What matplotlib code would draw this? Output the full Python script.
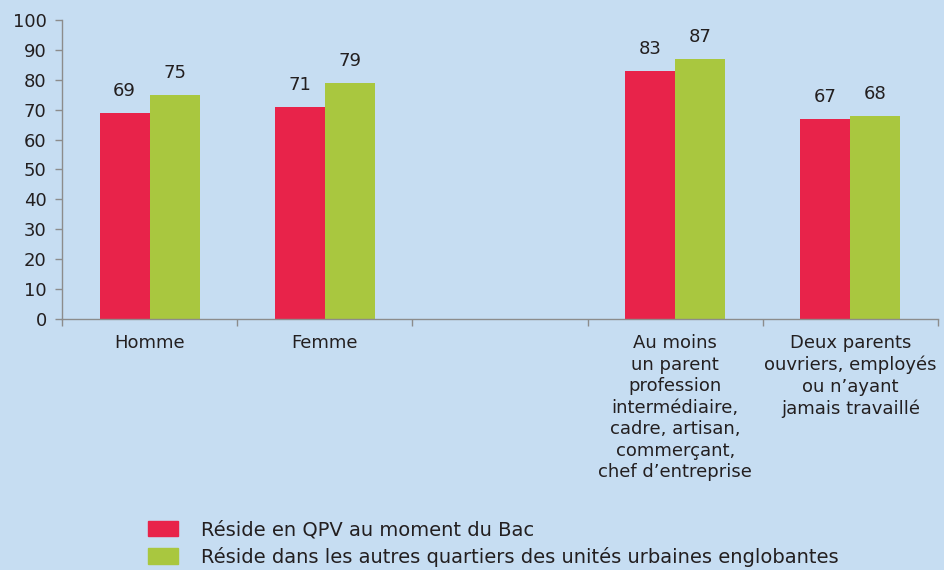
import matplotlib.pyplot as plt
import numpy as np

categories = ["Homme", "Femme", "",
              "Au moins\nun parent\nprofession\nintermédiaire,\ncadre, artisan,\ncommerçant,\nchef d\u2019entreprise",
              "Deux parents\nouvriers, employés\nou n\u2019ayant\njamais travaillé"]
qpv = [69, 71, None, 83, 67]
autres = [75, 79, None, 87, 68]
series_names = ["Réside en QPV au moment du Bac",
                "Réside dans les autres quartiers des unités urbaines englobantes"]

bg = "#c6ddf2"
red = "#e8234a"
green = "#a9c73f"
txt = "#231f20"

plt.rcParams['font.family'] = ['DejaVu Sans']

fig = plt.figure(figsize=(9.44, 5.70), dpi=100, facecolor=bg)
ax = fig.add_axes([0.0657, 0.4404, 0.9279, 0.5246])
ax.set_facecolor(bg)

x = np.arange(len(categories))
w = 0.286
for i in range(len(categories)):
    if qpv[i] is None:
        continue
    ax.bar(x[i] - w / 2, qpv[i], w, color=red, edgecolor="none")
    ax.bar(x[i] + w / 2, autres[i], w, color=green, edgecolor="none")
    ax.annotate(str(qpv[i]), (x[i] - w / 2, qpv[i]), xytext=(0, 9), textcoords="offset points",
                ha="center", va="bottom", fontsize=13, color=txt)
    ax.annotate(str(autres[i]), (x[i] + w / 2, autres[i]), xytext=(0, 9), textcoords="offset points",
                ha="center", va="bottom", fontsize=13, color=txt)

ax.set_xlim(-0.5, len(categories) - 0.5)
ax.set_ylim(0, 100)
ax.set_yticks(range(0, 101, 10))
ax.tick_params(axis="y", labelsize=13, colors="#8c8c8c", labelcolor=txt, length=5, width=1, pad=6)

ax.set_xticks(x)
ax.set_xticklabels(categories, fontsize=13, color=txt, linespacing=1.25, va="top")
ax.tick_params(axis="x", which="major", length=0, pad=11)
ax.set_xticks(np.arange(-0.5, len(categories), 1), minor=True)
ax.tick_params(axis="x", which="minor", length=5, width=1, colors="#8c8c8c")

for s in ["top", "right"]:
    ax.spines[s].set_visible(False)
for s in ["left", "bottom"]:
    ax.spines[s].set_color("#8c8c8c")
    ax.spines[s].set_linewidth(1)

handles = [plt.Rectangle((0, 0), 1, 1, color=red), plt.Rectangle((0, 0), 1, 1, color=green)]
fig.legend(handles, series_names, loc="upper left", bbox_to_anchor=(0.157, 0.087),
           frameon=False, fontsize=14, handlelength=1.55, handleheight=0.85,
           handletextpad=1.15, labelspacing=0.38, borderaxespad=0, borderpad=0,
           labelcolor=txt)

fig.savefig("out.png", dpi=100, facecolor=bg)
